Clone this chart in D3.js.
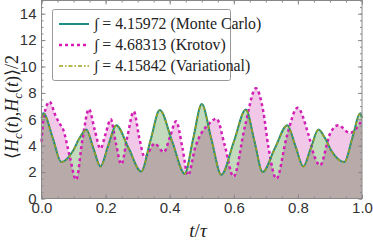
<!DOCTYPE html>
<html>
<head>
<meta charset="utf-8">
<script src="https://cdn.jsdelivr.net/npm/d3@7"></script>
<style>
  body { margin: 0; background: #fff; }
  svg { display: block; }
</style>
</head>
<body>
<svg id="chart" width="373" height="242"></svg>
<script>
// t/tau sample points and values
const mcT  = [0, 0.006, 0.035, 0.062, 0.098, 0.119, 0.14, 0.162, 0.184, 0.208, 0.233, 0.272, 0.311, 0.34, 0.369, 0.408, 0.447, 0.473, 0.5, 0.53, 0.561, 0.6, 0.6375, 0.664, 0.69, 0.728, 0.767, 0.792, 0.817, 0.84, 0.864, 0.884, 0.905, 0.945, 0.97, 0.994, 1];
const mcV  = [6.1, 6.45, 4.6, 2.76, 3.6, 4.6, 5.22, 3.8, 2.43, 4.0, 5.55, 3.8, 2.05, 4.4, 6.7, 4.3, 1.88, 4.5, 7.15, 4.5, 1.8, 4.3, 6.75, 4.4, 2.0, 3.8, 5.55, 4.0, 2.43, 3.8, 5.22, 4.6, 3.6, 2.76, 4.6, 6.45, 6.1];
const varV = [6.05, 6.42, 4.58, 2.75, 3.58, 4.58, 5.2, 3.79, 2.42, 3.99, 5.53, 3.79, 2.04, 4.39, 6.68, 4.29, 1.87, 4.49, 7.13, 4.49, 1.79, 4.29, 6.73, 4.39, 1.99, 3.79, 5.53, 3.99, 2.42, 3.79, 5.2, 4.58, 3.58, 2.75, 4.58, 6.42, 6.05];

const krT = [0, 0.008, 0.025, 0.045, 0.056, 0.068, 0.088, 0.108, 0.128, 0.148, 0.166, 0.184, 0.2, 0.216, 0.232, 0.249, 0.268, 0.288, 0.305, 0.322, 0.353, 0.382, 0.4, 0.42, 0.44, 0.457, 0.48, 0.5, 0.52, 0.546, 0.572, 0.599, 0.635, 0.669, 0.692, 0.708, 0.733, 0.765, 0.799, 0.832, 0.853, 0.869, 0.9, 0.926, 0.962, 1];
const krV = [4.3, 6.3, 7.33, 6.2, 5.7, 5.2, 3.2, 1.42, 4.5, 6.77, 5.2, 3.78, 4.9, 6.0, 4.2, 2.59, 4.7, 6.6, 4.6, 3.14, 4.16, 3.52, 4.6, 5.85, 3.8, 1.75, 3.9, 5.0, 5.6, 6.05, 4.0, 1.65, 5.5, 8.35, 6.6, 3.9, 1.5, 4.67, 6.87, 4.92, 3.1, 2.51, 4.9, 5.55, 4.97, 5.94];

const legendLabels = ["\u222B = 4.15972 (Monte Carlo)", "\u222B = 4.68313 (Krotov)", "\u222B = 4.15842 (Variational)"];
const xTicks = [0, 0.2, 0.4, 0.6, 0.8, 1.0];
const yTicks = [0, 2, 4, 6, 8, 10, 12, 14];

const mc  = mcT.map((t, i) => ({ t, v: mcV[i] }));
const vr  = mcT.map((t, i) => ({ t, v: varV[i] }));
const kr  = krT.map((t, i) => ({ t, v: krV[i] }));

const svg = d3.select('#chart');
const plotL = 41.5, plotR = 362, plotT = 0.5, plotB = 198.5;

const x = d3.scaleLinear().domain([0, 1]).range([plotL, plotR]);
const y = d3.scaleLinear().domain([0, 15]).range([plotB, plotT]);

const area = d3.area().x(d => x(d.t)).y0(y(0)).y1(d => y(d.v)).curve(d3.curveMonotoneX);
const line = d3.line().x(d => x(d.t)).y(d => y(d.v)).curve(d3.curveMonotoneX);

// clip so the overlap of both fills gets its own colour
svg.append('defs').append('clipPath').attr('id', 'krClip')
  .append('path').attr('d', area(kr));

svg.append('path').attr('d', area(kr)).attr('fill', '#f2c8e8');
svg.append('path').attr('d', area(mc)).attr('fill', '#c3dabd');
svg.append('path').attr('d', area(mc)).attr('fill', '#b9aaaa').attr('clip-path', 'url(#krClip)');

svg.append('path').attr('d', line(kr)).attr('fill', 'none')
  .attr('stroke', '#d21eb4').attr('stroke-width', 2.5).attr('stroke-dasharray', '3,3');
svg.append('path').attr('d', line(mc)).attr('fill', 'none')
  .attr('stroke', '#1a8c84').attr('stroke-width', 2);
svg.append('path').attr('d', line(vr)).attr('fill', 'none')
  .attr('stroke', '#a0a018').attr('stroke-width', 1.5).attr('stroke-dasharray', '4,2,1.5,2');

// frame with inward ticks on all four sides
const tickCol = '#888';
function styleAxis(g) {
  g.select('.domain').remove();
  g.selectAll('line').attr('stroke', tickCol);
  g.selectAll('text').attr('fill', '#333').style('font-family', '"Liberation Sans", Arial, sans-serif').style('font-size', '15px');
}
const xMinor = d3.range(0, 1.0001, 0.05);
const yMinor = d3.range(0, 15.0001, 0.5);

svg.append('g').attr('transform', `translate(0,${plotB})`)
  .call(d3.axisBottom(x).tickValues(xMinor).tickSize(-2).tickFormat('')).call(styleAxis);
svg.append('g').attr('transform', `translate(0,${plotB})`)
  .call(d3.axisBottom(x).tickValues(xTicks).tickSize(-4).tickPadding(4).tickFormat(d3.format('.1f'))).call(styleAxis);
svg.append('g').attr('transform', `translate(0,${plotT})`)
  .call(d3.axisTop(x).tickValues(xMinor).tickSize(-2).tickFormat('')).call(styleAxis);
svg.append('g').attr('transform', `translate(0,${plotT})`)
  .call(d3.axisTop(x).tickValues(xTicks).tickSize(-4).tickFormat('')).call(styleAxis);

svg.append('g').attr('transform', `translate(${plotL},0)`)
  .call(d3.axisLeft(y).tickValues(yMinor).tickSize(-2).tickFormat('')).call(styleAxis);
svg.append('g').attr('transform', `translate(${plotL},0)`)
  .call(d3.axisLeft(y).tickValues(yTicks).tickSize(-4).tickPadding(5).tickFormat(d3.format('d'))).call(styleAxis);
svg.append('g').attr('transform', `translate(${plotR},0)`)
  .call(d3.axisRight(y).tickValues(yMinor).tickSize(-2).tickFormat('')).call(styleAxis);
svg.append('g').attr('transform', `translate(${plotR},0)`)
  .call(d3.axisRight(y).tickValues(yTicks).tickSize(-4).tickFormat('')).call(styleAxis);

svg.append('rect').attr('x', plotL).attr('y', plotT).attr('width', plotR - plotL).attr('height', plotB - plotT)
  .attr('fill', 'none').attr('stroke', tickCol).attr('stroke-width', 1);

// legend
const lg = svg.append('g');
lg.append('rect').attr('x', 52.5).attr('y', 9.5).attr('width', 178).attr('height', 71).attr('rx', 2)
  .attr('fill', '#fff').attr('stroke', '#999');
const legendStyles = [
  { stroke: '#1a8c84', w: 2, dash: null },
  { stroke: '#d21eb4', w: 2.5, dash: '3,3' },
  { stroke: '#a0a018', w: 1.5, dash: '4,2,1.5,2' }
];
legendLabels.forEach((lab, i) => {
  const yy = 24 + i * 21;
  lg.append('line').attr('x1', 59).attr('x2', 89).attr('y1', yy).attr('y2', yy)
    .attr('stroke', legendStyles[i].stroke).attr('stroke-width', legendStyles[i].w)
    .attr('stroke-dasharray', legendStyles[i].dash);
  lg.append('text').attr('x', 94).attr('y', yy + 5).text(lab)
    .style('font-family', '"Liberation Serif", "Times New Roman", serif').style('font-size', '15.8px').attr('fill', '#222');
});

// axis titles
svg.append('text').attr('x', 198).attr('y', 237).attr('text-anchor', 'middle')
  .style('font-family', '"Liberation Serif", serif').style('font-size', '19px').attr('fill', '#222')
  .call(t => {
    t.append('tspan').style('font-style', 'italic').text('t');
    t.append('tspan').text('/');
    t.append('tspan').style('font-style', 'italic').text('\u03C4');
  });

const yl = svg.append('text').attr('transform', 'translate(18,107) rotate(-90)').attr('text-anchor', 'middle')
  .style('font-family', '"Liberation Serif", serif').style('font-size', '18px').attr('fill', '#222');
const parts = [
  ['\u27E8', 0, false], ['H', 0, true], ['c', 4, true], ['(', -4, false], ['t', 0, true], [')', 0, false], [',', 0, false],
  ['H', 0, true], ['c', 4, true], ['(', -4, false], ['t', 0, true], [')\u27E9/2', 0, false]
];
parts.forEach(([s, dy, it]) => {
  const ts = yl.append('tspan').attr('dy', dy).text(s);
  if (it) ts.style('font-style', 'italic');
  if (s === 'c') ts.style('font-size', '13px');
});
</script>
</body>
</html>
